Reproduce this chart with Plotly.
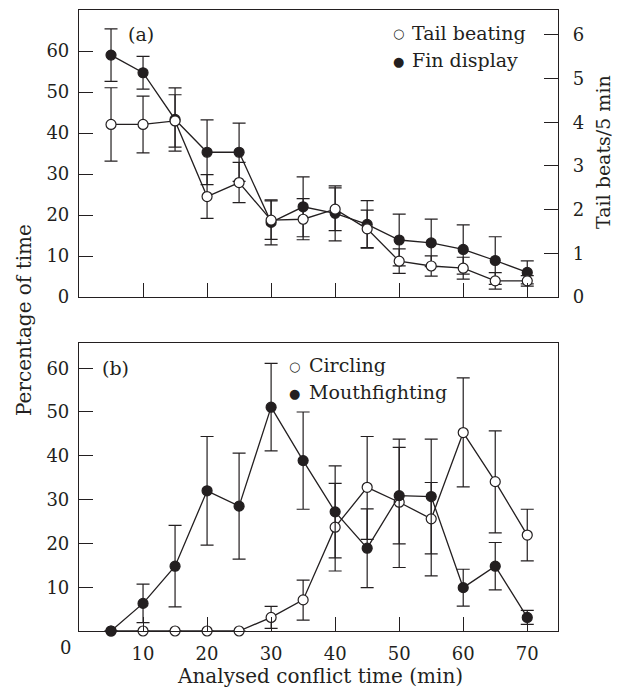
import plotly.graph_objects as go

# ---- data ----
time_min = [5, 10, 15, 20, 25, 30, 35, 40, 45, 50, 55, 60, 65, 70]

fin_display = [59.0, 54.7, 43.3, 35.3, 35.3, 18.2, 22.0, 20.4, 17.7, 13.9, 13.2, 11.6, 8.9, 6.0]
fin_err = [6.4, 4.0, 7.7, 7.9, 7.1, 5.5, 7.3, 6.7, 5.8, 6.3, 5.8, 6.0, 5.8, 2.8]

tail_beating = [3.95, 3.95, 4.03, 2.30, 2.62, 1.76, 1.78, 2.01, 1.56, 0.82, 0.71, 0.66, 0.37, 0.37]
tail_err = [0.84, 0.65, 0.60, 0.50, 0.46, 0.44, 0.47, 0.49, 0.43, 0.28, 0.23, 0.25, 0.19, 0.12]

circling = [0, 0, 0, 0, 0, 3.1, 7.1, 23.7, 32.8, 29.4, 25.6, 45.3, 34.1, 21.9]
circ_err_up = [None, None, None, None, None, 2.5, 4.5, 10.0, 11.6, 14.4, 8.3, 12.5, 11.6, 5.9]
circ_err_down = [None, None, None, None, None, 2.5, 4.6, 10.0, 11.9, 14.9, 13.0, 12.4, 11.7, 5.9]

mouthfighting = [0, 6.3, 14.8, 32.0, 28.5, 51.1, 38.9, 27.2, 18.9, 30.9, 30.7, 9.9, 14.8, 3.1]
mouth_err = [None, 4.4, 9.3, 12.4, 12.1, 10.0, 11.1, 10.5, 9.0, 11.0, 13.1, 4.2, 5.4, 1.6]

x_ticks = [10, 20, 30, 40, 50, 60, 70]
pct_ticks_top = [0, 10, 20, 30, 40, 50, 60]
pct_ticks_bottom = [10, 20, 30, 40, 50, 60]
beat_ticks = [0, 1, 2, 3, 4, 5, 6]

# ---- style ----
INK = "#231f20"
FONT = "DejaVu Serif"
W, H = 622, 688
L, R, T, B = 79, 64, 10, 57
PH = H - T - B
PW = W - L - R


def py(y):  # pixel y -> paper y
    return (H - B - y) / PH


def px(x):  # pixel x -> paper x
    return (x - L) / PW


def err(arr, arrm=None):
    d = dict(type="data", array=arr, thickness=1.2, width=6.5, color=INK)
    if arrm is not None:
        d.update(symmetric=False, arrayminus=arrm)
    return d


def marker(filled):
    return dict(size=10, color=INK if filled else "white",
                line=dict(color=INK, width=1.2), symbol="circle")


fig = go.Figure()

# top panel
fig.add_trace(go.Scatter(x=time_min, y=fin_display, mode="lines+markers",
                         line=dict(color=INK, width=1.3), marker=marker(True),
                         error_y=err(fin_err), xaxis="x2", yaxis="y2",
                         cliponaxis=False, showlegend=False, name="Fin display"))
fig.add_trace(go.Scatter(x=time_min, y=tail_beating, mode="lines+markers",
                         line=dict(color=INK, width=1.3), marker=marker(False),
                         error_y=err(tail_err), xaxis="x2", yaxis="y3",
                         cliponaxis=False, showlegend=False, name="Tail beating"))

# bottom panel
fig.add_trace(go.Scatter(x=time_min, y=circling, mode="lines+markers",
                         line=dict(color=INK, width=1.3), marker=marker(False),
                         error_y=err(circ_err_up, circ_err_down), xaxis="x", yaxis="y",
                         cliponaxis=False, showlegend=False, name="Circling"))
fig.add_trace(go.Scatter(x=time_min, y=mouthfighting, mode="lines+markers",
                         line=dict(color=INK, width=1.3), marker=marker(True),
                         error_y=err(mouth_err), xaxis="x", yaxis="y",
                         cliponaxis=False, showlegend=False, name="Mouthfighting"))

tickfont = dict(family=FONT, size=18, color=INK)
axis_common = dict(showgrid=False, zeroline=False, showline=True, linecolor=INK,
                   linewidth=1.2, ticks="inside", ticklen=14, tickwidth=1.2,
                   tickcolor=INK, tickfont=tickfont)

x_range = [0, 74.8]

fig.update_layout(
    width=W, height=H,
    margin=dict(l=L, r=R, t=T, b=B),
    paper_bgcolor="white", plot_bgcolor="white",
    font=dict(family=FONT, color=INK),
    xaxis=dict(axis_common, domain=[0, 1], anchor="y", range=x_range,
               tickvals=x_ticks, mirror=True, ticklabelstandoff=6),
    yaxis=dict(axis_common, domain=[0, py(343)], anchor="x", range=[0, 65.75],
               tickvals=pct_ticks_bottom, mirror=True, ticklabelstandoff=5),
    xaxis2=dict(axis_common, domain=[0, 1], anchor="y2", range=x_range,
                tickvals=x_ticks, showticklabels=False, mirror=True),
    yaxis2=dict(axis_common, domain=[py(297), 1], anchor="x2", range=[0, 70],
                tickvals=pct_ticks_top, mirror=True, ticklabelstandoff=5),
    yaxis3=dict(axis_common, overlaying="y2", side="right", anchor="x2",
                range=[0, 6.57], tickvals=beat_ticks, ticklabelstandoff=10),
)

ann = []
# axis titles
ann.append(dict(text="Percentage of time", x=px(24), y=py(320), textangle=-90,
                font=dict(family=FONT, size=20, color=INK)))
ann.append(dict(text="Tail beats/5 min", x=px(603), y=py(152), textangle=-90,
                font=dict(family=FONT, size=19, color=INK)))
ann.append(dict(text="Analysed conflict time (min)", x=px(320), y=py(676),
                font=dict(family=FONT, size=20, color=INK)))
# origin label
ann.append(dict(text="0", x=px(65), y=py(648), font=tickfont))
# panel labels
ann.append(dict(text="(a)", x=px(141), y=py(34), font=dict(family=FONT, size=19, color=INK)))
ann.append(dict(text="(b)", x=px(115), y=py(368), font=dict(family=FONT, size=19, color=INK)))

# legends
legend_items = [
    ("○", "Tail beating", 398, 410, 33),
    ("●", "Fin display", 398, 410, 60),
    ("○", "Circling", 294, 307, 365),
    ("●", "Mouthfighting", 294, 307, 392),
]
for sym, label, sx, tx, ty in legend_items:
    ann.append(dict(text=sym, x=px(sx), y=py(ty + 1), xanchor="center",
                    font=dict(family="DejaVu Sans", size=13, color=INK)))
    ann.append(dict(text=label, x=px(tx), y=py(ty), xanchor="left",
                    font=dict(family=FONT, size=19, color=INK)))

for a in ann:
    a.setdefault("xanchor", "center")
    a.update(xref="paper", yref="paper", showarrow=False, yanchor="middle")

fig.update_layout(annotations=ann)

fig.write_html("out.html", config={"displayModeBar": False},
               post_script="document.body.style.margin='0';document.body.style.overflow='hidden';")
